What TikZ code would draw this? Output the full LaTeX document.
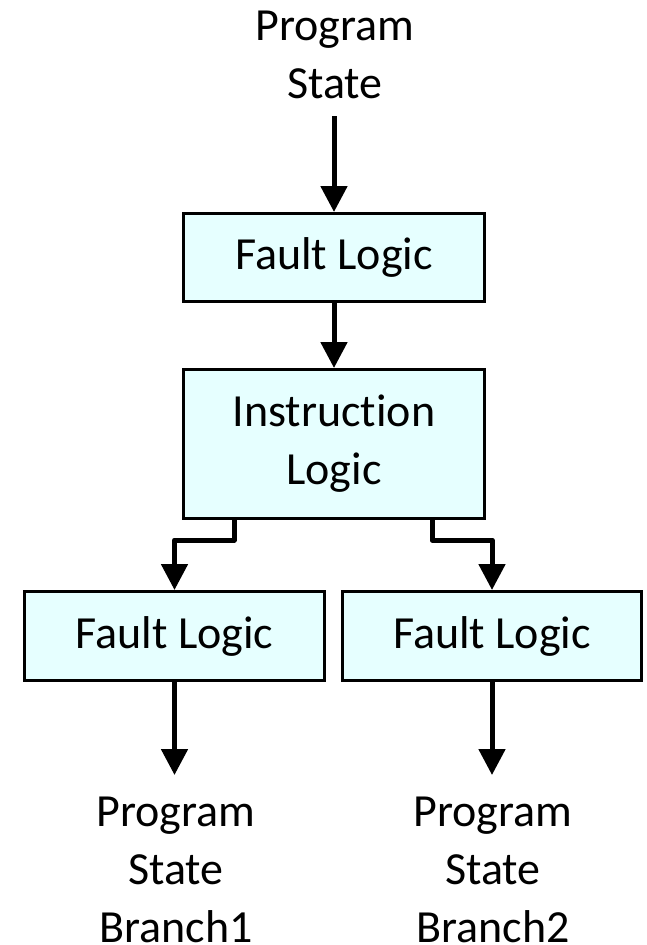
\documentclass[tikz,border=0pt]{standalone}
\usepackage{fontspec}
\setmainfont[Ligatures=NoCommon]{Carlito}
\usetikzlibrary{arrows.meta}
\definecolor{boxfill}{RGB}{230,255,255}
\begin{document}
\begin{tikzpicture}[x=1pt,y=-1pt,
  lbl/.style={font=\fontsize{46}{58}\selectfont, align=center, inner sep=0pt},
  blk/.style={draw=black, line width=3pt, fill=boxfill,
    font=\fontsize{46}{58}\selectfont, align=center, inner sep=0pt},
  arr/.style={line width=5pt, line join=round, -{Triangle[length=26pt,width=26pt]}}]
\useasboundingbox (0,0) rectangle (646,945);

% inputs and outputs
\node[lbl, anchor=north] (ps) at (335,11) {Program\\State};
\node[lbl, anchor=north] (b1) at (176,797) {Program\\State\\Branch1};
\node[lbl, anchor=north] (b2) at (493,797) {Program\\State\\Branch2};

% logic blocks
\node[blk, minimum width=301pt, minimum height=88pt] (fl1) at (334,257.5) {Fault Logic};
\node[blk, minimum width=301pt, minimum height=149pt] (il) at (334,444) {Instruction\\Logic};
\node[blk, minimum width=300pt, minimum height=89pt] (flL) at (174.5,636) {Fault Logic};
\node[blk, minimum width=299pt, minimum height=89pt] (flR) at (492,636) {Fault Logic};

% connectors
\draw[arr, shorten <=17pt] (ps.south -| fl1.north) -- (fl1.north);
\draw[arr] (fl1.south) -- (il.north);
\draw[arr] ([xshift=-100pt]il.south) -- ++(0,20) -| (flL.north);
\draw[arr] ([xshift=98pt]il.south) -- ++(0,20) -| (flR.north);
\draw[arr, shorten >=22pt] (flL.south) -- (flL.south |- b1.north);
\draw[arr, shorten >=22pt] (flR.south) -- (flR.south |- b2.north);
\end{tikzpicture}
\end{document}
